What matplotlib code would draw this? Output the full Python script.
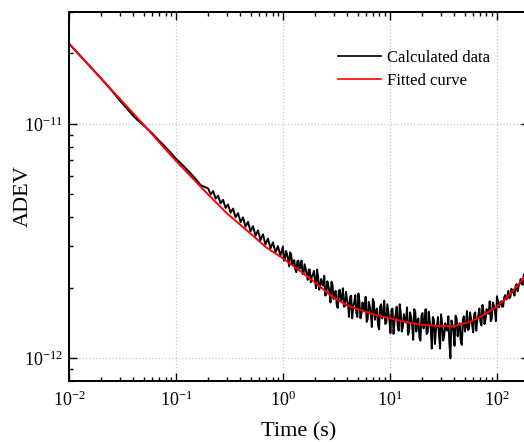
import matplotlib
matplotlib.use('Agg')
import matplotlib.pyplot as plt
import matplotlib.ticker as ticker
import numpy as np

# calculated ADEV, units of 1e-12
tau_smooth = [0.01, 0.012, 0.015, 0.02, 0.025, 0.03, 0.035, 0.04, 0.045, 0.05,
              0.06, 0.07, 0.08, 0.09, 0.1, 0.12, 0.15, 0.17]
adev_smooth = [22.0, 20.1, 18.0, 15.6, 13.9, 12.55, 11.6, 10.8, 10.25, 9.85,
               9.1, 8.45, 7.95, 7.5, 7.1, 6.55, 5.88, 5.48]

# 0.2 s .. 1 s, log spaced
adev_mid = [5.30, 5.00, 5.17, 4.80, 4.94, 4.58, 4.74, 4.38, 4.53, 4.18,
            4.35, 3.99, 4.16, 3.81, 3.99, 3.64, 3.82, 3.48, 3.66, 3.33,
            3.51, 3.19, 3.38, 3.06, 3.24, 2.94, 3.12, 2.83, 3.01, 2.74]

# 1 s .. 200 s, log spaced
adev_long = [3.00, 2.64, 2.78, 2.47, 2.77, 2.60, 2.39, 2.59, 2.41, 2.61,
             2.30, 2.40, 2.16, 2.39, 2.24, 2.36, 1.99, 2.24, 2.02, 2.08,
             2.25, 1.88, 2.04, 1.73, 2.06, 1.90, 1.70, 1.93, 1.75, 1.99,
             1.67, 1.79, 1.50, 1.85, 1.67, 1.86, 1.50, 1.74, 1.55, 1.63,
             1.83, 1.47, 1.67, 1.36, 1.73, 1.59, 1.38, 1.66, 1.48, 1.76,
             1.42, 1.57, 1.28, 1.63, 1.46, 1.66, 1.31, 1.56, 1.36, 1.45,
             1.65, 1.30, 1.50, 1.20, 1.58, 1.44, 1.23, 1.52, 1.34, 1.62,
             1.29, 1.44, 1.10, 1.46, 1.32, 1.50, 1.10, 1.41, 1.25, 1.33,
             1.51, 1.00, 1.39, 1.13, 1.48, 1.36, 1.18, 1.46, 1.30, 1.59,
             1.34, 1.47, 1.29, 1.57, 1.46, 1.63, 1.38, 1.59, 1.47, 1.56,
             1.75, 1.48, 1.68, 1.44, 1.75, 1.72, 1.66, 1.82, 1.78, 1.94,
             1.83, 1.93, 1.85, 2.07, 2.04, 2.18, 2.06, 2.24, 2.20, 2.32]

# same range, the points in between
adev_long_b = [2.61, 2.87, 2.66, 2.83, 2.50, 2.62, 2.33, 2.61, 2.45, 2.29,
               2.52, 2.29, 2.39, 2.11, 2.27, 2.14, 2.39, 1.96, 2.18, 2.04,
               1.85, 2.13, 1.92, 2.12, 1.79, 1.94, 1.64, 1.96, 1.80, 1.66,
               1.92, 1.69, 1.83, 1.48, 1.73, 1.57, 1.89, 1.48, 1.73, 1.60,
               1.43, 1.74, 1.55, 1.79, 1.46, 1.63, 1.33, 1.70, 1.54, 1.40,
               1.70, 1.45, 1.61, 1.27, 1.53, 1.38, 1.70, 1.30, 1.54, 1.42,
               1.26, 1.57, 1.38, 1.62, 1.30, 1.48, 1.19, 1.56, 1.40, 1.27,
               1.58, 1.33, 1.50, 1.15, 1.38, 1.25, 1.54, 1.19, 1.41, 1.31,
               1.16, 1.45, 1.29, 1.52, 1.24, 1.41, 1.14, 1.51, 1.37, 1.32,
               1.57, 1.39, 1.54, 1.31, 1.52, 1.43, 1.69, 1.40, 1.62, 1.55,
               1.44, 1.73, 1.59, 1.84, 1.65, 1.75, 1.66, 1.86, 1.82, 1.80,
               1.98, 1.90, 2.03, 1.93, 2.09, 2.07, 2.28, 2.14, 2.34]

# fitted curve, units of 1e-12
tau_fit = [0.01, 0.02, 0.05, 0.1, 0.2, 0.3, 0.5, 0.7, 1, 1.5, 2, 3, 4, 5, 7,
           10, 15, 20, 30, 40, 56, 70, 100, 130, 160, 200]
adev_fit = [22.0, 15.6, 9.9, 6.95, 5.0, 4.15, 3.40, 2.97, 2.67, 2.33, 2.10,
            1.81, 1.68, 1.62, 1.54, 1.48, 1.42, 1.39, 1.372, 1.37, 1.43, 1.50,
            1.66, 1.86, 2.07, 2.34]

x_major = [1e-2, 1e-1, 1e0, 1e1, 1e2]
y_major = [1e-12, 1e-11]


def main():
    plt.rcParams['font.family'] = ['Liberation Serif', 'DejaVu Serif']
    plt.rcParams['mathtext.fontset'] = 'stix'

    tau_mid = np.geomspace(0.2, 1, len(adev_mid), endpoint=False)
    tau_long = np.geomspace(1, 200, len(adev_long))
    tau_long_b = np.sqrt(tau_long[:-1] * tau_long[1:])

    tau_noisy = np.concatenate([tau_long, tau_long_b])
    adev_noisy = np.concatenate([adev_long, adev_long_b])
    order = np.argsort(tau_noisy)

    tau = np.concatenate([tau_smooth, tau_mid, tau_noisy[order]])
    adev = np.concatenate([adev_smooth, adev_mid, adev_noisy[order]]) * 1e-12

    fig = plt.figure(figsize=(5.24, 4.42), dpi=100)
    ax = fig.add_axes([69 / 524, 61 / 442, 460 / 524, 369 / 442])

    ax.plot(tau, adev, color='black', lw=1.4, label='Calculated data')
    ax.plot(tau_fit, np.array(adev_fit) * 1e-12, color='red', lw=1.4, label='Fitted curve')

    ax.set_xscale('log')
    ax.set_yscale('log')
    ax.set_xlim(0.01, 200)
    ax.set_ylim(8e-13, 3e-11)

    ax.xaxis.set_major_locator(ticker.FixedLocator(x_major))
    ax.yaxis.set_major_locator(ticker.FixedLocator(y_major))
    ax.xaxis.set_major_formatter(ticker.LogFormatterSciNotation())
    ax.yaxis.set_major_formatter(ticker.LogFormatterSciNotation())
    ax.xaxis.set_minor_locator(ticker.LogLocator(base=10, subs=np.arange(2, 10), numticks=20))
    ax.yaxis.set_minor_locator(ticker.LogLocator(base=10, subs=np.arange(2, 10), numticks=20))
    ax.xaxis.set_minor_formatter(ticker.NullFormatter())
    ax.yaxis.set_minor_formatter(ticker.NullFormatter())

    ax.tick_params(which='both', direction='in', top=True, right=True, width=1.0)
    ax.tick_params(which='major', length=6, labelsize=13)
    ax.tick_params(axis='x', which='major', pad=7)
    ax.tick_params(axis='y', which='major', pad=4)
    ax.tick_params(which='minor', length=3)
    for sp in ax.spines.values():
        sp.set_linewidth(1.4)

    ax.grid(True, which='major', linestyle=':', color='#c8c8c8', linewidth=0.9)

    ax.set_xlabel('Time (s)', fontsize=16, labelpad=9)
    ax.set_ylabel('ADEV', fontsize=16)
    ax.yaxis.set_label_coords(-0.078, 0.5)

    leg = ax.legend(loc='upper left', bbox_to_anchor=(338 / 524, 1 - 50 / 442),
                    bbox_transform=fig.transFigure, frameon=False, fontsize=12,
                    handlelength=2.6, handletextpad=0.35, labelspacing=0.4,
                    borderpad=0, borderaxespad=0)
    for line in leg.get_lines():
        line.set_linewidth(1.2)

    fig.savefig('out.png', dpi=100)


if __name__ == '__main__':
    main()
